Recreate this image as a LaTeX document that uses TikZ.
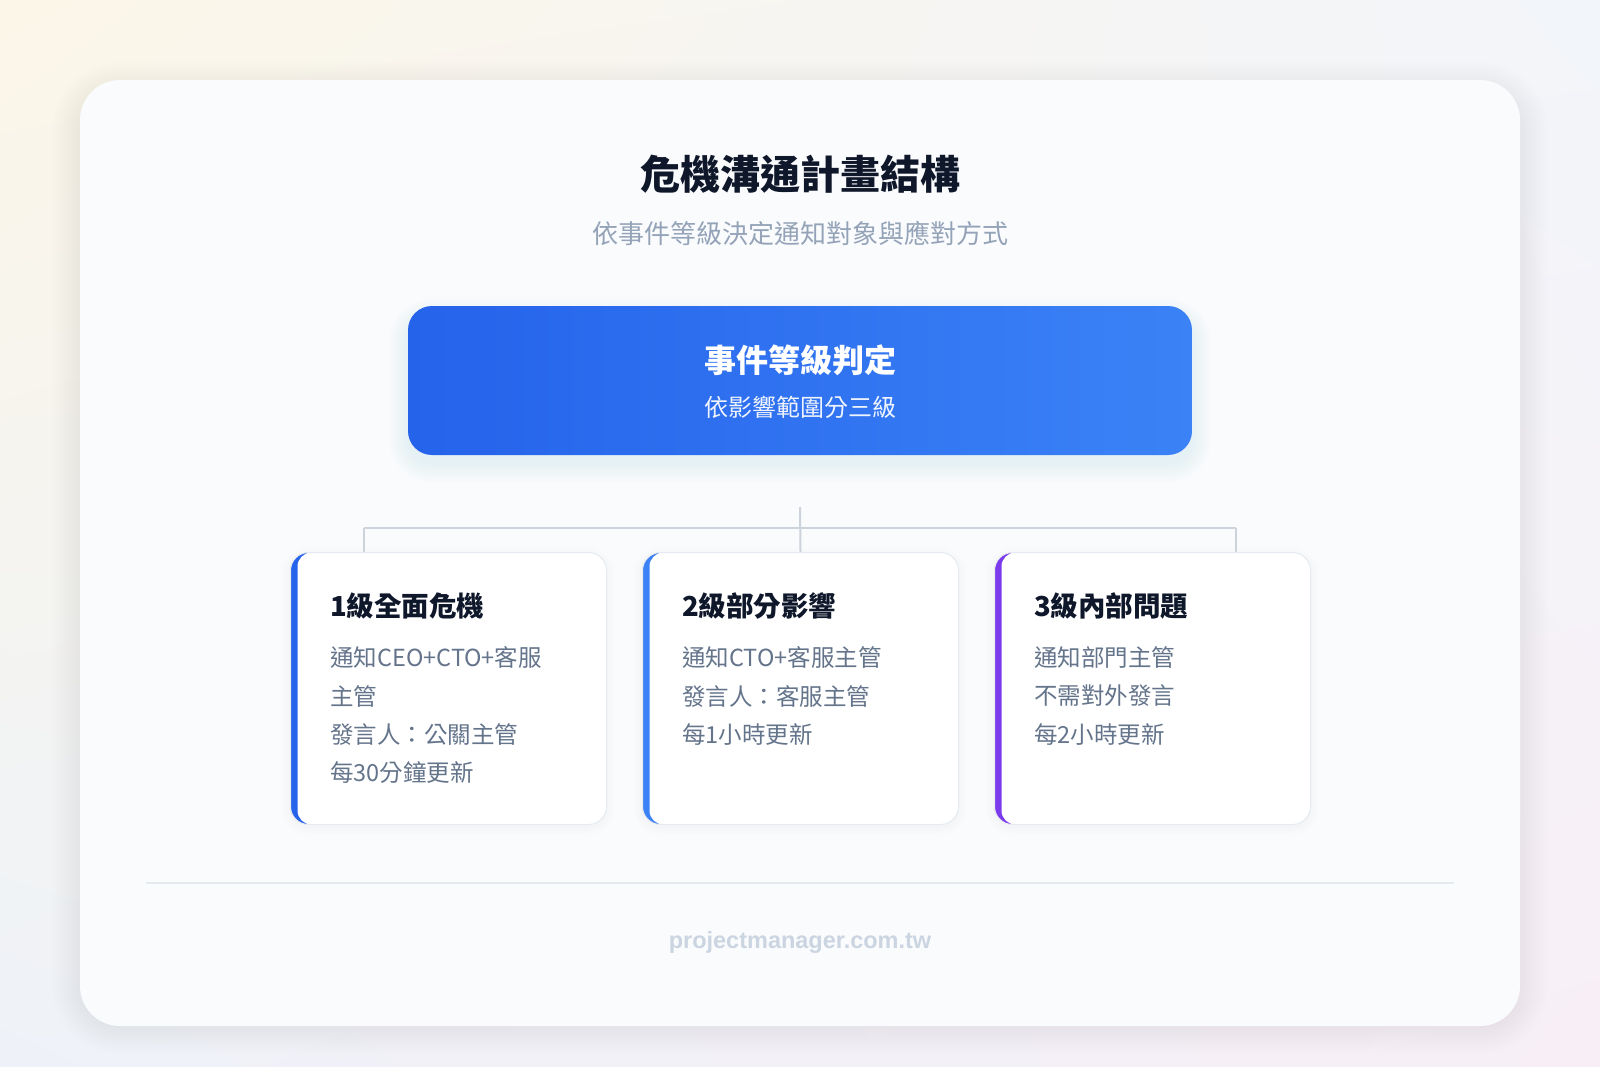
\documentclass[tikz,border=0pt]{standalone}
\usepackage{fontspec}
\setmainfont{Noto Sans CJK TC}
\newfontfamily\footfont{Liberation Sans}
\usetikzlibrary{calc,shadings}
\definecolor{bgA}{HTML}{FCF6E8}
\definecolor{bgB}{HTML}{F2F5FA}
\definecolor{bgC}{HTML}{EEF2F8}
\definecolor{bgD}{HTML}{F8EFF6}
\definecolor{panel}{HTML}{FAFBFD}
\definecolor{ink}{HTML}{0F172A}
\definecolor{muted}{HTML}{94A3B8}
\definecolor{body}{HTML}{64748B}
\definecolor{blueA}{HTML}{2563EB}
\definecolor{blueB}{HTML}{3B82F6}
\definecolor{purple}{HTML}{7C3AED}
\definecolor{cardline}{HTML}{E6EAF0}
\definecolor{connc}{HTML}{CDD3DB}
\definecolor{sepc}{HTML}{E5E9F0}
\definecolor{footc}{HTML}{CBD5E1}
\tikzset{
  card/.style={draw=cardline, line width=1pt, fill=white, rounded corners=18pt,
    minimum width=316pt, minimum height=272pt, anchor=north west, inner sep=0pt},
  accentbar/.style={path picture={
    \fill[#1] (path picture bounding box.north west) rectangle ([xshift=30pt]path picture bounding box.south west);
    \fill[white, rounded corners=14pt] ([xshift=7pt]path picture bounding box.north west) rectangle ([xshift=40pt]path picture bounding box.south east);}},
  conn/.style={draw=connc, line width=2pt},
  cardtitle/.style={anchor=west, inner sep=0pt, text=ink, font=\bfseries\fontsize{27.5pt}{32pt}\selectfont},
  cardtext/.style={anchor=west, inner sep=0pt, text=body, font=\fontsize{23.5pt}{28pt}\selectfont},
}
\begin{document}
\begin{tikzpicture}[x=1pt,y=-1pt]
\useasboundingbox (0,0) rectangle (1600,1066);
\shade[upper left=bgA, upper right=bgB, lower left=bgC, lower right=bgD] (0,0) rectangle (1600,1066);
% outer panel shadow
\foreach \i in {1,...,14}
  \fill[black, opacity=0.004, rounded corners=40pt+2pt*\i] (80-2*\i,90-2*\i) rectangle (1520+2*\i,1026+2*\i);
\fill[panel, rounded corners=40pt] (80,80) rectangle (1520,1026);
% title
\node[text=ink, font=\bfseries\fontsize{40pt}{46pt}\selectfont] (title) at (800,174) {危機溝通計畫結構};
\node[text=muted, font=\fontsize{26pt}{30pt}\selectfont] (subtitle) at (800,233) {依事件等級決定通知對象與應對方式};
% top box shadow
\foreach \i in {1,...,10}
  \fill[blueB, opacity=0.009, rounded corners=24pt+2pt*\i] (408-2*\i,318-2*\i) rectangle (1192+2*\i,463+2*\i);
\node[rounded corners=24pt, left color=blueA, right color=blueB, minimum width=784pt, minimum height=149pt, inner sep=0pt] (top) at (800,380.5) {};
\node[text=white, font=\bfseries\fontsize{32pt}{38pt}\selectfont] (toptitle) at (800,360) {事件等級判定};
\node[text=white, opacity=0.92, font=\fontsize{24pt}{29pt}\selectfont] (topsub) at (800,407) {依影響範圍分三級};
% card shadows
\foreach \x in {290,642,994}
  \foreach \i in {1,...,6}
    \fill[black, opacity=0.004, rounded corners=18pt+1.5pt*\i] (\x-1.5*\i,556-1.5*\i) rectangle (\x+316+1.5*\i,826+1.5*\i);
% cards
\node[card, accentbar=blueA] (c1) at (290,552) {};
\node[card, accentbar=blueB] (c2) at (642,552) {};
\node[card, accentbar=purple] (c3) at (994,552) {};
% connectors
\coordinate (hub) at (800,507);
\coordinate (l1) at (364,528);
\coordinate (l3) at (1236,528);
\draw[conn] (hub) -- (c2.north);
\draw[conn] (l1) -- (l3);
\draw[conn] (l1) -- (l1 |- c1.north);
\draw[conn] (l3) -- (l3 |- c3.north);
% card texts
\node[cardtitle] (c1t) at (330,606) {1級全面危機};
\node[cardtext] (c1a) at (330,657) {通知CEO+CTO+客服};
\node[cardtext] (c1b) at (330,696) {主管};
\node[cardtext] (c1c) at (330,734) {發言人：公關主管};
\node[cardtext] (c1d) at (330,773) {每30分鐘更新};
\node[cardtitle] (c2t) at (682,606) {2級部分影響};
\node[cardtext] (c2a) at (682,657) {通知CTO+客服主管};
\node[cardtext] (c2b) at (682,696) {發言人：客服主管};
\node[cardtext] (c2c) at (682,734) {每1小時更新};
\node[cardtitle] (c3t) at (1034,606) {3級內部問題};
\node[cardtext] (c3a) at (1034,657) {通知部門主管};
\node[cardtext] (c3b) at (1034,696) {不需對外發言};
\node[cardtext] (c3c) at (1034,734) {每2小時更新};
% separator and footer
\coordinate (sepl) at (146,883);
\coordinate (sepr) at (1454,883);
\draw[sepc, line width=1.5pt] (sepl) -- (sepr);
\node[text=footc, font=\footfont\bfseries\fontsize{23.5pt}{27pt}\selectfont] (foot) at (800,942) {projectmanager.com.tw};
\end{tikzpicture}
\end{document}
